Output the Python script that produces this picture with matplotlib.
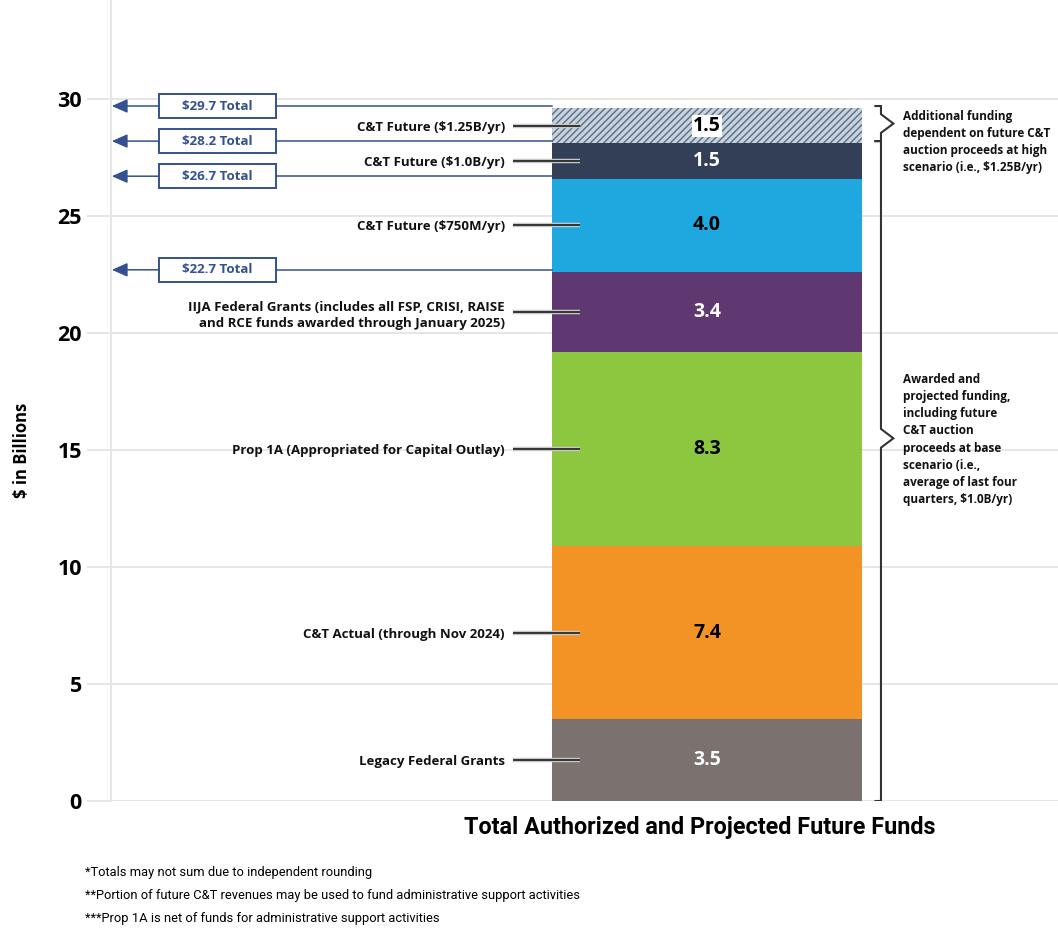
import matplotlib
matplotlib.use("Agg")
import matplotlib.pyplot as plt
import matplotlib.patheffects as pe
from matplotlib.patches import Rectangle

# data, bottom segment first
categories = [
    "Legacy Federal Grants",
    "C&T Actual (through Nov 2024)",
    "Prop 1A (Appropriated for Capital Outlay)",
    "IIJA Federal Grants (includes all FSP, CRISI, RAISE\nand RCE funds awarded through January 2025)",
    "C&T Future ($750M/yr)",
    "C&T Future ($1.0B/yr)",
    "C&T Future ($1.25B/yr)",
]
values = [3.5, 7.4, 8.3, 3.4, 4.0, 1.5, 1.5]
totals = [22.7, 26.7, 28.2, 29.7]
total_labels = ["$22.7 Total", "$26.7 Total", "$28.2 Total", "$29.7 Total"]
yticks = [0, 5, 10, 15, 20, 25, 30]

colors = ["#7B716E", "#F39325", "#8DC63F", "#5F3871", "#1FA8DF", "#323F56", "#C6D2DD"]
value_colors = ["white", "black", "black", "white", "black", "white", "black"]
NAVY = "#34518F"
GRID = "#E6E6E6"
FONT = ["Open Sans", "DejaVu Sans"]
COND = ["Roboto", "DejaVu Sans"]

plt.rcParams["font.family"] = FONT
plt.rcParams["hatch.linewidth"] = 1.0

fig = plt.figure(figsize=(10.58, 9.30), dpi=100)
ax = fig.add_axes([111 / 1058, 129 / 930, 947 / 1058, 801 / 930])
ax.set_ylim(0, 34.23)
ax.set_xlim(-1.9226, 1.132)

# gridlines + ticks
ax.set_yticks(yticks)
ax.yaxis.grid(True, color=GRID, linewidth=1.4)
ax.set_axisbelow(True)
ax.tick_params(axis="y", length=17.5, width=1.4, color=GRID, pad=3.5, labelsize=15.5)
for lab in ax.get_yticklabels():
    lab.set_fontweight("bold")
ax.set_xticks([])
for side in ["top", "right", "bottom"]:
    ax.spines[side].set_visible(False)
ax.spines["left"].set_color(GRID)
ax.spines["left"].set_linewidth(1.4)

# stacked bar
bottom = 0
for i, (cat, v) in enumerate(zip(categories, values)):
    hatched = cat.endswith("($1.25B/yr)")
    ax.bar(0, v, width=1.0, bottom=bottom, color=colors[i],
           edgecolor="#5B6E86" if hatched else colors[i],
           hatch="/////" if hatched else None, linewidth=0)
    mid = bottom + v / 2
    box = dict(facecolor="white", edgecolor="none", pad=1) if hatched else None
    ax.text(0, mid, f"{v:.1f}", ha="center", va="center", fontsize=14,
            fontweight="bold", color=value_colors[i], bbox=box)
    ax.text(-0.652, mid, cat, ha="right", va="center_baseline", fontsize=9.5,
            fontweight="bold", color="#111111", linespacing=1.35)
    ax.plot([-0.626, -0.41], [mid, mid], color="#333333", linewidth=1.4,
            solid_capstyle="butt",
            path_effects=[pe.Stroke(linewidth=3.2, foreground="#C8C8C8"), pe.Normal()])
    bottom += v

# total call-outs
box_left, box_w, box_h = -1.768, 0.3774, 1.05
for t, lab in zip(totals, total_labels):
    ax.add_patch(Rectangle((box_left, t - box_h / 2), box_w, box_h,
                           facecolor="white", edgecolor=NAVY, linewidth=1.4, zorder=4))
    ax.text(box_left + box_w / 2, t, lab, ha="center", va="center",
            fontsize=9.6, fontweight="bold", color=NAVY, zorder=5)
    ax.plot([box_left + box_w, -0.5], [t, t], color=NAVY, linewidth=1.1, zorder=3)
    ax.annotate("", xy=(-1.92, t), xytext=(box_left, t), zorder=3,
                arrowprops=dict(arrowstyle="-|>,head_length=0.95,head_width=0.42",
                                color=NAVY, lw=1.1, shrinkA=0, shrinkB=0))


def bracket(lo, hi, tip, x=0.561):
    xs = [x - 0.018, x, x, x + 0.04, x, x, x - 0.018]
    ys = [hi, hi, tip + 0.4, tip, tip - 0.4, lo, lo]
    ax.plot(xs, ys, color="#333333", linewidth=1.5, solid_joinstyle="miter")


bracket(totals[2], totals[3], (totals[2] + totals[3]) / 2)
bracket(0, totals[2], 15.5)

ax.text(0.632, 29.55, "Additional funding\ndependent on future C&T\nauction proceeds at high\nscenario (i.e., $1.25B/yr)",
        ha="left", va="top", fontsize=8.5, fontweight="bold", color="#111111", linespacing=1.42)
ax.text(0.632, 15.45, "Awarded and\nprojected funding,\nincluding future\nC&T auction\nproceeds at base\nscenario (i.e.,\naverage of last four\nquarters, $1.0B/yr)",
        ha="left", va="center", fontsize=8.5, fontweight="bold", color="#111111", linespacing=1.42)

fig.text(22 / 1058, 1 - 450 / 930, "$ in Billions", rotation=90, ha="center", va="center",
         fontsize=12, fontweight="bold")
fig.text(700 / 1058, 1 - 827 / 930, "Total Authorized and Projected Future Funds",
         ha="center", va="center", fontsize=16.8, fontweight="bold", family=COND)
notes = [
    "*Totals may not sum due to independent rounding",
    "**Portion of future C&T revenues may be used to fund administrative support activities",
    "***Prop 1A is net of funds for administrative support activities",
]
for k, n in enumerate(notes):
    fig.text(85 / 1058, 1 - (872 + 23 * k) / 930, n, ha="left", va="center",
             fontsize=9.3, family=COND)

fig.savefig("out.png", dpi=100)
